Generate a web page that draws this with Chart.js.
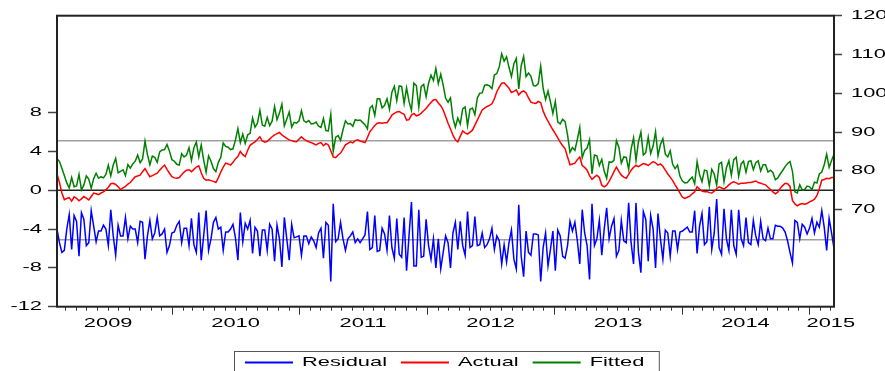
<!DOCTYPE html>
<html>
<head>
<meta charset="utf-8">
<script src="https://cdn.jsdelivr.net/npm/chart.js@4.4.1/dist/chart.umd.min.js"></script>
<style>
  html, body { margin: 0; padding: 0; background: #ffffff; }
  #wrap { width: 885px; height: 371px; position: relative; }
</style>
</head>
<body>
<div id="wrap"><canvas id="chart"></canvas></div>
<script>
// Weekly observations, first week ending 6 Feb 2009
const firstWeek = Date.UTC(2009, 1, 6);

// Actual series (right axis)
const actual = [
  79.2,77.0,74.3,72.6,72.9,73.1,72.2,73.3,72.9,72.3,
  72.8,73.4,73.0,72.5,73.4,74.3,74.1,73.9,74.3,74.6,
  75.1,75.8,76.7,76.8,76.5,75.9,75.2,75.6,76.0,76.6,
  77.0,77.8,78.5,78.7,78.9,79.8,80.6,79.5,78.5,78.8,
  79.1,79.4,80.2,80.9,81.5,80.4,79.4,78.5,78.2,78.1,
  78.3,79.0,79.7,80.2,80.3,79.8,80.4,81.0,81.3,79.5,
  78.1,77.6,77.7,77.5,77.3,77.0,78.2,79.7,81.0,82.0,
  81.8,81.5,82.2,83.1,83.7,85.0,84.2,83.7,85.3,86.6,
  87.1,87.5,88.1,88.8,87.7,87.4,87.6,88.2,88.8,89.3,
  89.6,89.9,89.3,88.8,88.4,88.0,87.8,87.6,87.5,88.2,
  88.8,88.2,87.8,87.5,87.3,87.0,86.7,87.1,87.3,86.5,
  87.1,86.7,85.2,83.6,83.4,84.1,84.6,85.6,86.7,87.1,
  87.5,87.2,87.8,88.0,87.7,87.5,87.3,88.6,90.1,90.9,
  91.7,92.3,92.4,92.3,92.4,92.4,93.3,94.4,94.8,95.2,
  95.3,94.9,94.6,93.1,93.2,94.4,94.8,94.2,94.4,94.9,
  95.5,96.1,96.9,97.6,98.3,98.4,97.5,96.8,95.7,94.0,
  92.3,90.8,89.2,88.0,87.5,88.9,90.3,89.8,89.5,90.0,
  90.5,91.8,93.1,94.4,95.7,96.2,96.6,96.9,97.3,98.6,
  100.4,101.6,102.6,102.7,102.0,101.3,100.2,100.5,100.9,99.6,
  100.3,100.6,100.1,98.8,97.7,97.5,97.4,97.9,97.6,95.4,
  94.0,92.8,91.7,90.6,89.6,88.5,87.4,86.5,85.7,83.6,
  81.6,81.8,82.0,82.9,83.6,81.4,80.9,80.2,78.8,77.8,
  78.4,78.9,78.3,76.3,75.9,76.3,77.3,78.5,79.8,81.0,
  79.9,78.9,78.4,78.1,79.1,80.2,80.9,81.4,81.1,81.5,
  81.9,81.7,81.4,81.9,82.4,82.1,81.5,81.8,81.2,80.2,
  79.2,78.4,77.5,76.4,75.4,74.3,73.2,72.9,73.2,73.5,
  74.1,74.6,75.9,75.3,74.8,74.6,74.7,74.4,74.3,74.8,
  75.4,75.9,75.6,75.3,75.8,76.4,76.9,77.2,76.9,76.6,
  76.8,76.8,76.9,77.0,77.0,77.2,77.4,77.0,76.8,76.6,
  76.4,75.8,75.2,74.6,74.1,74.5,75.5,76.2,76.8,76.7,
  76.0,72.4,71.5,71.0,71.4,71.6,71.4,71.6,72.0,72.3,
  72.7,73.6,75.4,77.6,77.8,78.1,78.0,78.3,78.3
];

// Residual series (left axis)
const residual = [
  -4.0,-5.4,-6.4,-6.2,-4.0,-2.5,-6.1,-2.6,-3.2,-6.8,
  -2.3,-3.0,-5.7,-5.4,-2.1,-3.7,-5.3,-4.2,-4.2,-3.6,
  -4.0,-5.7,-2.0,-4.7,-6.7,-3.6,-4.7,-4.7,-2.8,-5.0,
  -3.7,-4.0,-4.0,-5.4,-3.2,-3.3,-7.1,-4.7,-3.1,-5.0,
  -4.4,-2.8,-4.7,-4.5,-4.0,-6.4,-5.7,-4.4,-4.3,-3.6,
  -3.2,-5.4,-3.9,-3.9,-5.7,-2.9,-5.6,-6.4,-2.3,-7.2,
  -4.7,-2.1,-6.2,-5.0,-3.3,-2.8,-4.0,-3.8,-6.2,-4.3,
  -4.3,-4.0,-3.5,-4.9,-7.2,-2.3,-5.3,-3.4,-4.0,-3.1,
  -6.5,-3.8,-4.2,-6.8,-4.1,-4.1,-6.2,-3.5,-4.0,-7.3,
  -3.6,-5.0,-7.9,-2.8,-5.0,-7.2,-3.5,-4.9,-4.8,-4.7,
  -6.7,-4.7,-4.7,-5.5,-4.8,-5.2,-5.9,-4.4,-3.9,-7.0,
  -3.3,-3.6,-9.4,-1.4,-5.3,-5.0,-3.3,-5.0,-6.2,-5.0,
  -4.7,-4.3,-5.4,-5.0,-5.4,-5.0,-4.6,-2.2,-6.1,-5.9,
  -2.6,-6.3,-6.2,-3.9,-4.5,-6.2,-2.6,-5.9,-7.0,-2.9,
  -6.6,-6.9,-2.8,-8.3,-4.7,-1.2,-7.8,-7.8,-2.0,-6.9,
  -6.8,-3.0,-5.7,-7.1,-5.0,-8.0,-5.0,-8.1,-6.4,-4.7,
  -5.4,-8.0,-4.4,-3.3,-6.1,-3.2,-5.7,-6.7,-2.2,-5.9,
  -5.7,-2.7,-5.7,-5.6,-4.4,-5.9,-5.6,-5.0,-3.9,-6.1,
  -4.7,-5.2,-7.6,-5.6,-7.4,-5.4,-4.1,-7.1,-8.1,-1.5,
  -6.8,-8.9,-4.2,-6.4,-6.7,-4.5,-4.5,-4.6,-9.4,-5.9,
  -4.4,-7.8,-6.1,-4.2,-8.3,-4.1,-4.7,-6.8,-7.0,-5.7,
  -3.2,-4.2,-3.3,-5.2,-7.6,-2.0,-4.4,-5.7,-9.2,-1.4,
  -5.7,-5.0,-3.1,-6.7,-4.0,-1.8,-5.0,-3.7,-2.9,-6.8,
  -6.2,-3.1,-5.2,-5.4,-1.3,-5.4,-7.6,-1.3,-6.4,-8.5,
  -2.2,-3.0,-7.3,-2.6,-4.0,-8.0,-2.4,-5.0,-7.1,-4.1,
  -4.4,-6.8,-4.2,-4.2,-6.1,-4.3,-4.2,-4.0,-3.8,-4.3,
  -4.3,-2.1,-6.5,-3.7,-2.4,-5.6,-5.3,-1.7,-6.1,-4.4,
  -0.9,-5.9,-6.6,-1.9,-5.0,-6.2,-2.0,-5.7,-6.6,-2.0,
  -5.0,-5.7,-2.8,-5.4,-5.6,-3.1,-4.7,-5.6,-3.2,-5.0,
  -5.2,-3.9,-5.0,-5.0,-3.6,-3.7,-3.7,-3.9,-4.3,-5.2,
  -6.4,-7.5,-3.1,-3.3,-5.0,-3.5,-3.8,-4.5,-3.9,-2.9,
  -4.4,-3.3,-3.8,-2.1,-3.8,-6.2,-2.9,-4.4,-6.0
];

// Fitted series (right axis)
const fitted = [
  83.2,82.4,80.7,78.8,76.9,75.6,78.3,75.9,76.1,79.1,
  75.1,76.4,78.7,77.9,75.5,78.0,79.4,78.1,78.5,78.2,
  79.1,81.5,78.7,81.5,83.2,79.5,79.9,80.3,78.8,81.6,
  80.7,81.8,82.5,84.1,82.1,83.1,87.7,84.2,81.6,83.8,
  83.5,82.2,84.9,85.4,85.5,86.8,85.1,82.9,82.5,81.7,
  81.5,84.4,83.6,84.1,86.0,82.7,86.0,87.4,83.6,86.7,
  82.8,79.7,83.9,82.5,80.6,79.8,82.2,83.5,87.2,86.3,
  86.1,85.5,85.7,88.0,90.9,87.3,89.5,87.1,89.3,89.7,
  93.6,91.3,92.3,95.6,91.8,91.5,93.8,91.7,92.8,96.6,
  93.2,94.9,97.2,91.6,93.4,95.2,91.3,92.5,92.3,92.9,
  95.5,92.9,92.5,93.0,92.1,92.2,92.6,91.5,91.2,93.5,
  90.4,90.3,94.6,85.0,88.7,89.1,87.9,90.6,92.9,92.1,
  92.2,91.5,93.2,93.0,93.1,92.5,91.9,90.8,96.2,96.8,
  94.3,98.6,98.6,96.2,96.9,98.6,95.9,100.3,101.8,98.1,
  101.9,101.8,97.4,101.4,97.9,95.6,102.6,102.0,96.4,101.8,
  102.3,99.1,102.6,104.7,103.3,106.4,102.5,104.9,102.1,98.7,
  97.7,98.8,93.6,91.3,93.6,92.1,96.0,96.5,91.7,95.9,
  96.2,94.5,98.8,100.0,100.1,102.1,102.2,101.9,101.2,104.7,
  105.1,106.8,110.2,108.3,109.4,106.7,104.3,107.6,109.0,101.1,
  107.1,109.5,104.3,105.2,104.4,102.0,101.9,102.5,107.0,101.3,
  98.4,100.6,97.8,94.8,97.9,92.6,92.1,93.3,92.7,89.3,
  84.8,86.0,85.3,88.1,91.2,83.4,85.3,85.9,88.0,79.2,
  84.1,83.9,81.4,83.0,79.9,78.1,82.3,82.2,82.7,87.8,
  86.1,82.0,83.6,83.5,80.4,85.6,88.5,82.7,87.5,90.0,
  84.1,84.7,88.7,84.5,86.4,90.1,83.9,86.8,88.3,84.3,
  83.6,85.2,81.7,80.6,81.5,78.6,77.4,76.9,77.0,77.8,
  78.4,76.7,82.4,79.0,77.2,80.2,80.0,76.1,80.4,79.2,
  76.3,81.8,82.2,77.2,80.8,82.6,78.9,82.9,83.5,78.6,
  81.8,82.5,79.7,82.4,82.6,80.3,82.1,82.6,80.0,81.6,
  81.6,79.7,80.2,79.6,77.7,78.2,79.2,80.1,81.1,81.9,
  82.4,79.9,74.6,74.3,76.4,75.1,75.2,76.1,75.9,75.2,
  77.1,76.9,79.2,79.7,81.6,84.3,80.9,82.7,84.3
];

// Residual standard-error band
const seBand = 5.1;

// Axis ticks and labels
const leftTicks = [-12, -8, -4, 0, 4, 8];
const rightTicks = [70, 80, 90, 100, 110, 120];
const yearLabels = ['2009', '2010', '2011', '2012', '2013', '2014', '2015'];
const yearLabelAt = [2009.5, 2010.5, 2011.5, 2012.5, 2013.5, 2014.5, 2015.17];
const keyLabels = ['Residual', 'Actual', 'Fitted'];

function decimalYear(ms) {
  const y = new Date(ms).getUTCFullYear();
  const s = Date.UTC(y, 0, 1), e = Date.UTC(y + 1, 0, 1);
  return y + (ms - s) / (e - s);
}

const weekX = actual.map((_, i) => decimalYear(firstWeek + i * 7 * 864e5));
const xFirst = weekX[0], xLast = weekX[weekX.length - 1];
const toPoints = arr => arr.map((v, i) => ({ x: weekX[i], y: v }));
const flat = v => [{ x: xFirst, y: v }, { x: xLast, y: v }];

const TEXT_FONT = '13px "Liberation Sans", Arial, sans-serif';
const STRETCH = 1.68;

function wideText(ctx, s, x, y, align) {
  ctx.save();
  ctx.font = TEXT_FONT;
  ctx.fillStyle = '#000000';
  ctx.textBaseline = 'middle';
  ctx.textAlign = align;
  ctx.translate(x, y);
  ctx.scale(STRETCH, 1);
  ctx.fillText(s, 0, 0);
  ctx.restore();
}

const eviewsFrame = {
  id: 'eviewsFrame',
  afterDraw(chart) {
    const ctx = chart.ctx, ca = chart.chartArea;
    const xs = chart.scales.x, yl = chart.scales.y, yr = chart.scales.y1;

    // plot frame
    ctx.save();
    ctx.strokeStyle = '#222222';
    ctx.lineWidth = 2;
    ctx.strokeRect(ca.left, ca.top, ca.right - ca.left, ca.bottom - ca.top);

    // monthly and yearly tick marks on the time axis
    ctx.strokeStyle = '#333333';
    ctx.lineWidth = 1;
    ctx.beginPath();
    for (let y = Math.floor(xs.min); y <= Math.ceil(xs.max); y++) {
      for (let m = 0; m < 12; m++) {
        const v = decimalYear(Date.UTC(y, m, 1));
        if (v < xs.min - 1e-9 || v > xs.max + 1e-9) continue;
        const px = Math.round(xs.getPixelForValue(v)) + 0.5;
        ctx.moveTo(px, ca.bottom);
        ctx.lineTo(px, ca.bottom + (m === 0 ? 8 : 4));
      }
    }
    ctx.stroke();
    ctx.restore();

    // tick labels
    yl.ticks.forEach(t => wideText(ctx, yl.getLabelForValue ? String(t.value) : t.label, ca.left - 15, yl.getPixelForValue(t.value), 'right'));
    yr.ticks.forEach(t => wideText(ctx, String(t.value), ca.right + 17, yr.getPixelForValue(t.value), 'left'));
    xs.ticks.forEach((t, i) => wideText(ctx, yearLabels[i], xs.getPixelForValue(t.value), ca.bottom + 17, 'center'));

    // key
    const items = chart.data.datasets.filter(d => keyLabels.includes(d.label));
    ctx.save();
    ctx.font = TEXT_FONT;
    const widths = items.map(d => ctx.measureText(d.label).width * STRETCH);
    ctx.restore();
    const lineLen = 48, gapText = 9, gapItem = 14, padL = 10.5, padR = 15;
    let total = padL + padR + gapItem * (items.length - 1);
    widths.forEach(w => { total += lineLen + gapText + w; });
    const left = Math.round((ca.left + ca.right) / 2 + 0.5 - total / 2) + 0.5;
    const top = Math.round(ca.bottom + 44) + 0.5;
    ctx.save();
    ctx.strokeStyle = '#555555';
    ctx.lineWidth = 1;
    ctx.strokeRect(left, top, total, 40);
    let x = left + padL;
    const midY = top + 11;
    items.forEach((d, i) => {
      ctx.strokeStyle = d.borderColor;
      ctx.lineWidth = 2;
      ctx.beginPath();
      ctx.moveTo(x, midY);
      ctx.lineTo(x + lineLen, midY);
      ctx.stroke();
      wideText(ctx, d.label, x + lineLen + gapText, midY - 0.5, 'left');
      x += lineLen + gapText + widths[i] + gapItem;
    });
    ctx.restore();
  }
};

const lineStyle = { borderWidth: 1.5, pointRadius: 0, tension: 0, fill: false };

new Chart(document.getElementById('chart'), {
  type: 'line',
  data: {
    datasets: [
      { label: 'Residual', data: toPoints(residual), yAxisID: 'y', borderColor: '#0000FF', ...lineStyle, order: 0 },
      { label: 'Actual', data: toPoints(actual), yAxisID: 'y1', borderColor: '#FF0000', ...lineStyle, order: 1 },
      { label: 'Fitted', data: toPoints(fitted), yAxisID: 'y1', borderColor: '#008000', ...lineStyle, order: 2 },
      { label: 'zero', data: flat(0), yAxisID: 'y', borderColor: '#222222', borderWidth: 1.5, pointRadius: 0, order: 5 },
      { label: 'upper', data: flat(seBand), yAxisID: 'y', borderColor: '#A0A0A0', borderWidth: 1.5, pointRadius: 0, order: 6 },
      { label: 'lower', data: flat(-seBand), yAxisID: 'y', borderColor: '#A0A0A0', borderWidth: 1.5, pointRadius: 0, order: 6 }
    ]
  },
  options: {
    responsive: true,
    maintainAspectRatio: false,
    animation: false,
    events: [],
    layout: { padding: { top: 15.7, left: 0, right: 0, bottom: 0 } },
    plugins: { legend: { display: false }, tooltip: { enabled: false } },
    scales: {
      x: {
        type: 'linear',
        position: 'bottom',
        min: xFirst,
        max: xLast,
        grid: { display: false },
        border: { display: false },
        ticks: { display: false, callback: (v, i) => yearLabels[i] },
        afterBuildTicks: s => { s.ticks = yearLabelAt.map(v => ({ value: v })); },
        afterFit: s => { s.height = 64.3; }
      },
      y: {
        type: 'linear',
        position: 'left',
        min: -12,
        max: 18,
        grid: { drawOnChartArea: false, tickLength: 9, tickColor: '#444444', tickWidth: 1.5 },
        border: { display: false },
        ticks: { display: false },
        afterBuildTicks: s => { s.ticks = leftTicks.map(v => ({ value: v })); },
        afterFit: s => { s.width = 57; }
      },
      y1: {
        type: 'linear',
        position: 'right',
        min: 45,
        max: 120,
        grid: { drawOnChartArea: false, tickLength: 8, tickColor: '#444444', tickWidth: 1.5 },
        border: { display: false },
        ticks: { display: false },
        afterBuildTicks: s => { s.ticks = rightTicks.map(v => ({ value: v })); },
        afterFit: s => { s.width = 51; }
      }
    }
  },
  plugins: [eviewsFrame]
});
</script>
</body>
</html>
